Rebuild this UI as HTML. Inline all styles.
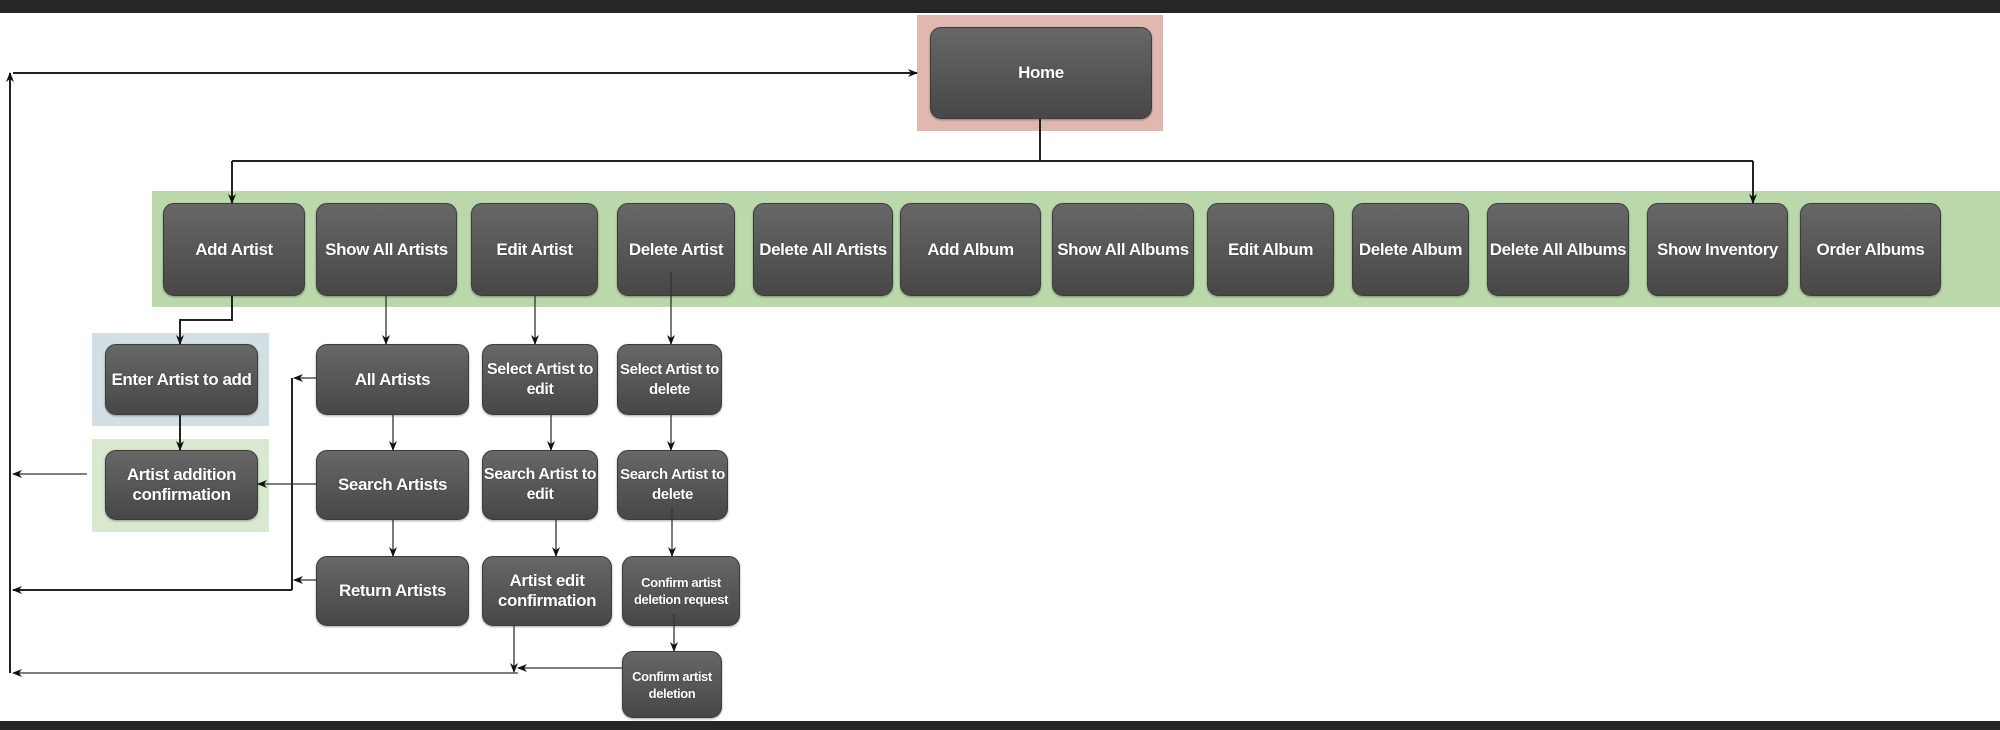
<!DOCTYPE html>
<html><head><meta charset="utf-8"><style>
body{margin:0;width:2000px;height:730px;background:#fff;position:relative;overflow:hidden;font-family:"Liberation Sans",sans-serif}
.bar{position:absolute;left:0;width:2000px;background:#262626}
.bg{position:absolute}
.b{position:absolute;box-sizing:border-box;border-radius:11px;background:linear-gradient(#676767,#474747);border:1px solid #3c3c3c;box-shadow:0 1px 2px rgba(0,0,0,.35);color:#fff;font-weight:bold;font-size:17px;letter-spacing:-0.4px;display:flex;align-items:center;justify-content:center;text-align:center;line-height:20px;white-space:nowrap;text-shadow:0 0 1px #222;overflow:visible}
svg{position:absolute;left:0;top:0}
</style></head><body>
<div class="bar" style="top:0;height:13px"></div>
<div class="bar" style="top:721px;height:9px"></div>
<div class="bg" style="left:917px;top:15px;width:246px;height:116px;background:#e0b8b0"></div>
<div class="bg" style="left:152px;top:191px;width:1848px;height:116px;background:#bbd8ab"></div>
<div class="bg" style="left:92px;top:333px;width:177px;height:93px;background:#d2e0e6"></div>
<div class="bg" style="left:92px;top:439px;width:177px;height:93px;background:#d8e9cf"></div>

<div class="b" style="left:930px;top:27px;width:222px;height:92px">Home</div>

<div class="b" style="left:163px;top:203px;width:142px;height:93px">Add Artist</div>
<div class="b" style="left:316px;top:203px;width:141px;height:93px">Show All Artists</div>
<div class="b" style="left:471px;top:203px;width:127px;height:93px">Edit Artist</div>
<div class="b" style="left:617px;top:203px;width:118px;height:93px">Delete Artist</div>
<div class="b" style="left:753px;top:203px;width:140px;height:93px">Delete All Artists</div>
<div class="b" style="left:900px;top:203px;width:141px;height:93px">Add Album</div>
<div class="b" style="left:1052px;top:203px;width:142px;height:93px">Show All Albums</div>
<div class="b" style="left:1207px;top:203px;width:127px;height:93px">Edit Album</div>
<div class="b" style="left:1352px;top:203px;width:117px;height:93px">Delete Album</div>
<div class="b" style="left:1487px;top:203px;width:142px;height:93px">Delete All Albums</div>
<div class="b" style="left:1647px;top:203px;width:141px;height:93px">Show Inventory</div>
<div class="b" style="left:1800px;top:203px;width:141px;height:93px">Order Albums</div>

<div class="b" style="left:105px;top:344px;width:153px;height:71px">Enter Artist to add</div>
<div class="b" style="left:105px;top:450px;width:153px;height:70px">Artist addition<br>confirmation</div>
<div class="b" style="left:316px;top:344px;width:153px;height:71px">All Artists</div>
<div class="b" style="left:316px;top:450px;width:153px;height:70px">Search Artists</div>
<div class="b" style="left:316px;top:556px;width:153px;height:70px">Return Artists</div>
<div class="b" style="left:482px;top:344px;width:116px;height:71px;font-size:16px">Select Artist to<br>edit</div>
<div class="b" style="left:482px;top:450px;width:116px;height:70px;font-size:16px">Search Artist to<br>edit</div>
<div class="b" style="left:482px;top:556px;width:130px;height:70px">Artist edit<br>confirmation</div>
<div class="b" style="left:617px;top:344px;width:105px;height:71px;font-size:15px">Select Artist to<br>delete</div>
<div class="b" style="left:617px;top:450px;width:111px;height:70px;font-size:15px">Search Artist to<br>delete</div>
<div class="b" style="left:622px;top:556px;width:118px;height:70px;font-size:13px;line-height:17px">Confirm artist<br>deletion request</div>
<div class="b" style="left:622px;top:651px;width:100px;height:67px;font-size:13px;line-height:17px">Confirm artist<br>deletion</div>

<svg width="2000" height="730">
<defs><marker id="a" markerWidth="10" markerHeight="10" refX="9" refY="5" orient="auto" markerUnits="userSpaceOnUse"><path d="M0,1 L10,5 L0,9 L3,5 z" fill="#111"/></marker></defs>
<g stroke="#222" stroke-width="2" fill="none">
<path d="M1040,119 V161"/>
<path d="M232,161 H1753" />
<path d="M232,161 V203" marker-end="url(#a)"/>
<path d="M1753,161 V203" marker-end="url(#a)"/>
<path d="M232,296 V320 H180 V344" marker-end="url(#a)"/>
<path d="M180,415 V450" marker-end="url(#a)"/>
<path d="M13,73 H917" marker-end="url(#a)"/>
<path d="M10,673 V73" marker-end="url(#a)"/>
<path d="M292,590 H13" marker-end="url(#a)"/>
<path d="M292,378 V590"/>
</g>
<g stroke="#333" stroke-width="1.3" fill="none">
<path d="M87,474 H13" marker-end="url(#a)"/>
<path d="M386,296 V344" marker-end="url(#a)"/>
<path d="M393,415 V450" marker-end="url(#a)"/>
<path d="M393,520 V556" marker-end="url(#a)"/>
<path d="M316,378 H294" marker-end="url(#a)"/>
<path d="M316,484 H258" marker-end="url(#a)"/>
<path d="M316,580 H294" marker-end="url(#a)"/>
<path d="M535,296 V344" marker-end="url(#a)"/>
<path d="M551,415 V450" marker-end="url(#a)"/>
<path d="M556,520 V556" marker-end="url(#a)"/>
<path d="M671,272 V344" marker-end="url(#a)"/>
<path d="M671,415 V450" marker-end="url(#a)"/>
<path d="M672,508 V556" marker-end="url(#a)"/>
<path d="M674,614 V651" marker-end="url(#a)"/>
<path d="M514,626 V672" marker-end="url(#a)"/>
<path d="M622,668 H518" marker-end="url(#a)"/>
<path d="M518,673 H13" marker-end="url(#a)"/>
</g>
</svg>
</body></html>
